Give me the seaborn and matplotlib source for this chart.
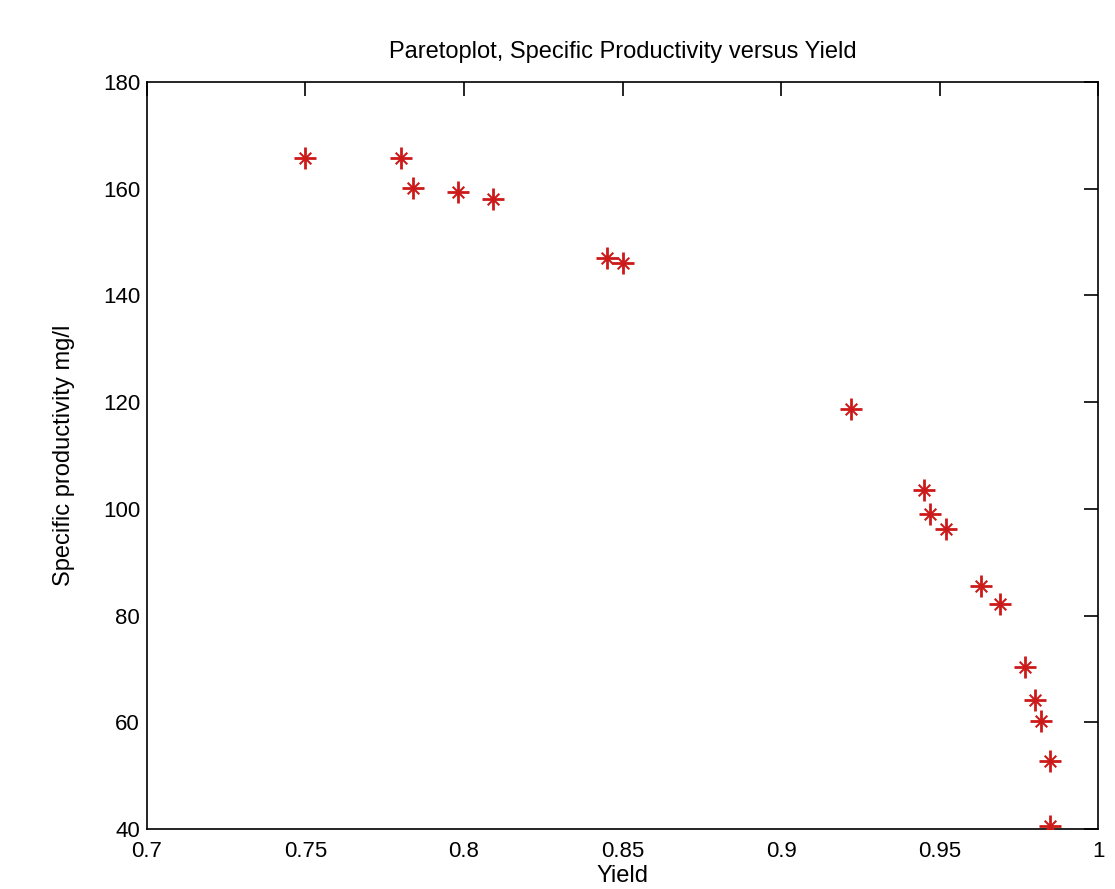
import pandas as pd
import matplotlib
matplotlib.use("Agg")
import matplotlib.pyplot as plt
import seaborn as sns

# values
yield_vals = [0.750, 0.780, 0.784, 0.798, 0.809, 0.845, 0.850, 0.922,
              0.945, 0.947, 0.952, 0.963, 0.969, 0.977, 0.980, 0.982,
              0.985, 0.985]
productivity = [165.8, 165.8, 160.1, 159.4, 158.1, 147.0, 146.1, 118.7,
                103.5, 99.0, 96.2, 85.5, 82.2, 70.4, 64.2, 60.2,
                52.7, 40.6]
x_ticks = [0.7, 0.75, 0.8, 0.85, 0.9, 0.95, 1.0]
x_tick_labels = ["0.7", "0.75", "0.8", "0.85", "0.9", "0.95", "1"]
y_ticks = [40, 60, 80, 100, 120, 140, 160, 180]

df = pd.DataFrame({"Yield": yield_vals, "Productivity": productivity})

sns.set_theme(style="white")
plt.rcParams["font.family"] = ["Liberation Sans", "DejaVu Sans"]
plt.rcParams["text.color"] = "black"
plt.rcParams["axes.labelcolor"] = "black"

fig = plt.figure(figsize=(11.15, 8.89), dpi=100)
ax = fig.add_axes([0.1318, 0.0675, 0.853, 0.8403])

red = "#cc1a1a"
# matlab-style asterisk: a big plus with a smaller cross over it
sns.scatterplot(data=df, x="Yield", y="Productivity", marker="+", s=230,
                color=red, linewidth=2.0, ax=ax, zorder=3)
sns.scatterplot(data=df, x="Yield", y="Productivity", marker="x", s=70,
                color=red, linewidth=1.5, ax=ax, zorder=3)

ax.set_xlim(0.7, 1.0)
ax.set_ylim(40, 180)
ax.set_xticks(x_ticks)
ax.set_xticklabels(x_tick_labels)
ax.set_yticks(y_ticks)

ax.tick_params(direction="in", length=10, width=1.2, top=True, right=True,
               labelsize=16, colors="black")
ax.tick_params(axis="x", pad=9)
ax.tick_params(axis="y", pad=5)
for s in ax.spines.values():
    s.set_color("black")
    s.set_linewidth(1.2)

ax.set_title("Paretoplot, Specific Productivity versus Yield", fontsize=17, pad=17)
ax.set_xlabel("Yield", fontsize=17, labelpad=2)
ax.set_ylabel("Specific productivity mg/l", fontsize=17, labelpad=20)

fig.savefig("out.png", dpi=100)
